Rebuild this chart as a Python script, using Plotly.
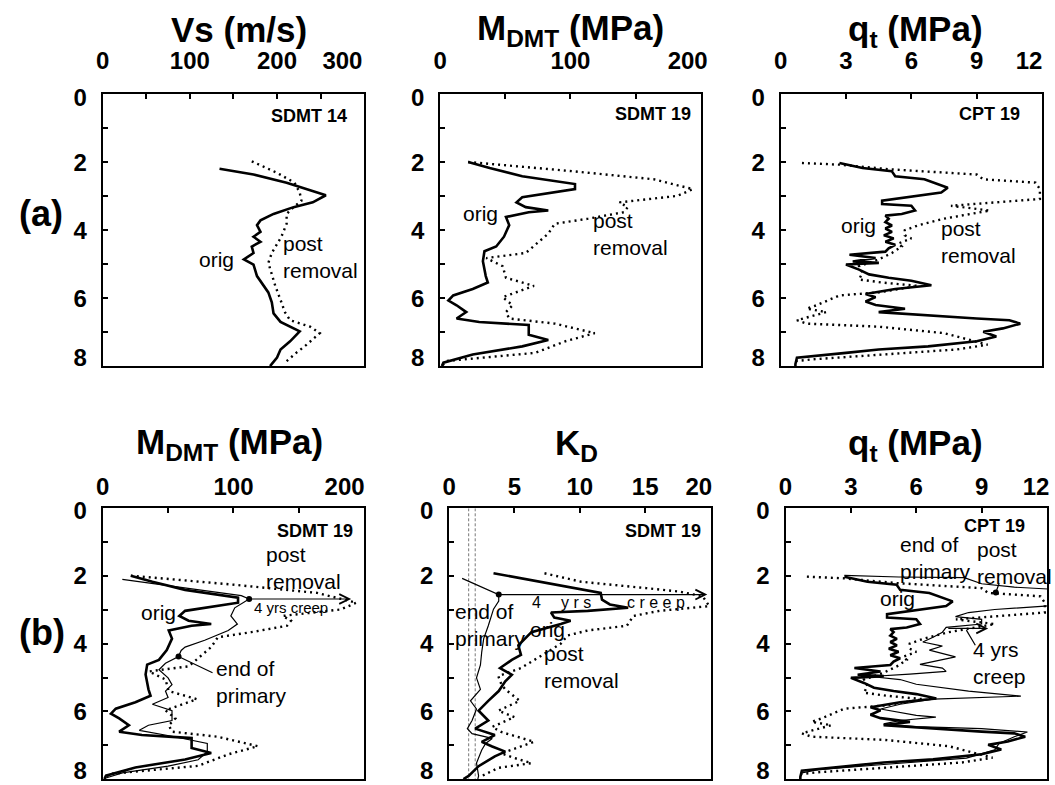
import plotly.graph_objects as go

FONT = "Liberation Sans, Arial, sans-serif"

# ---------------- profile data (depth in m) ----------------
# Row (a) panel 1: shear-wave velocity, SDMT 14
VS_ORIG_DEPTH = [2.19, 2.36, 2.6, 2.79, 2.97, 3.18, 3.32, 3.52, 3.71, 3.85, 4.05, 4.19, 4.34, 4.48,
                 4.67, 4.86, 5.01, 5.35, 5.49, 5.64, 5.83, 6.12, 6.45, 6.7, 6.98, 7.27, 7.51, 7.75, 8.0]
VS_ORIG = [134, 173, 211, 234, 256, 241, 219, 196, 181, 177, 181, 173, 181, 171,
           173, 162, 173, 177, 181, 185, 190, 194, 196, 204, 226, 215, 204, 200, 192]
VS_POST_DEPTH = [1.97, 2.31, 2.6, 2.89, 3.13, 3.32, 3.52, 3.81, 4.19, 4.67, 4.96, 5.64, 6.12, 6.41,
                 6.65, 6.84, 7.03, 7.37, 7.61, 7.9]
VS_POST = [171, 200, 220, 226, 228, 219, 211, 211, 205, 194, 190, 198, 205, 209,
           215, 238, 249, 234, 222, 209]

# Constrained modulus M_DMT, SDMT 19
M_ORIG_DEPTH = [1.99, 2.17, 2.41, 2.55, 2.64, 2.79, 2.89, 3.03, 3.18, 3.32, 3.42, 3.47, 3.61, 3.85,
                4.19, 4.48, 4.62, 4.91, 5.35, 5.54, 5.73, 5.92, 6.07, 6.21, 6.41, 6.6, 6.7, 6.79,
                7.08, 7.23, 7.42, 7.66, 7.9, 8.0]
M_ORIG = [21.5, 38, 63, 88, 103.5, 103.5, 88, 63, 58.6, 65.7, 83, 68, 50.5, 53,
          49, 43, 34, 32.8, 35, 36.6, 25, 10, 6.3, 12.6, 20, 12.6, 30, 68,
          68, 83, 63, 25, 2.5, 1.3]
M_POST_DEPTH = [1.99, 2.26, 2.5, 2.79, 2.99, 3.18, 3.32, 3.47, 3.66, 3.81, 4.1, 4.43, 4.67, 4.82,
                5.06, 5.4, 5.64, 5.97, 6.21, 6.41, 6.6, 6.75, 7.03, 7.27, 7.61, 7.85, 8.0]
M_POST = [21.5, 101, 164, 194, 182, 137.6, 144, 141, 113.6, 88, 83, 73, 65.7, 35.4,
          48, 50.5, 72, 48, 55.6, 50.5, 53, 88, 118.7, 96, 73, 5, 1.3]
M_EOP_DEPTH = [2.1, 2.35, 2.58, 2.68, 2.94, 3.18, 3.42, 3.61, 3.9, 4.1, 4.2, 4.38, 4.58, 4.77,
               5.01, 5.21, 5.4, 5.59, 5.79, 5.98, 6.27, 6.41, 6.56, 6.75, 6.95, 7.19, 7.43,
               7.62, 7.82, 7.97]
M_EOP = [15, 63, 106, 112, 101, 98, 103, 96, 78, 63, 60, 58, 48, 43,
         50, 53, 48, 50, 38, 53, 53, 35, 28, 55, 80, 80, 73,
         50, 15, 2.5]

# Cone resistance q_t, CPT 19
QT_ORIG_DEPTH = [2.02, 2.17, 2.26, 2.41, 2.5, 2.6, 2.75, 2.89, 3.01, 3.13, 3.23, 3.28, 3.42, 3.52,
                 3.57, 3.66, 3.76, 3.86, 3.95, 4.05, 4.15, 4.24, 4.34, 4.43, 4.53, 4.63, 4.72,
                 4.82, 4.92, 4.96, 5.01, 5.16, 5.3, 5.4, 5.49, 5.62, 5.73, 5.88, 5.97, 6.1, 6.2,
                 6.26, 6.31, 6.41, 6.48, 6.6, 6.65, 6.75, 6.89, 6.99, 7.13, 7.27, 7.42, 7.51,
                 7.61, 7.71, 7.75, 7.94, 8.0]
QT_ORIG = [2.7, 3.76, 5.1, 5.26, 6.6, 7.07, 7.67, 7.37, 6.0, 4.66, 4.66, 6.0, 6.17, 5.56,
           4.81, 4.96, 4.81, 5.11, 4.81, 5.11, 4.74, 5.19, 4.81, 5.26, 4.96, 4.81, 3.16,
           4.36, 3.31, 4.51, 3.0, 3.6, 4.06, 4.96, 6.0, 6.92, 5.26, 3.9, 4.36, 3.9, 4.36,
           5.26, 5.71, 4.5, 6.0, 9.0, 10.5, 11.0, 10.2, 9.3, 9.9, 9.0, 6.77, 4.5,
           3.0, 1.5, 0.75, 0.68, 0.68]
QT_POST_DEPTH = [2.02, 2.07, 2.21, 2.36, 2.5, 2.6, 2.79, 3.08, 3.28, 3.37, 3.42, 3.66, 3.86, 4.0,
                 4.15, 4.24, 4.39, 4.48, 4.67, 4.86, 5.06, 5.25, 5.45, 5.54, 5.64, 5.83, 5.92,
                 6.21, 6.31, 6.41, 6.65, 6.75, 6.84, 7.03, 7.27, 7.37, 7.51, 7.66, 7.8, 7.85]
QT_POST = [0.98, 2.7, 5.1, 9.0, 9.3, 11.7, 11.9, 11.9, 7.82, 9.0, 9.6, 7.5, 6.3, 5.7,
           5.7, 6.0, 5.4, 5.56, 5.11, 4.5, 3.6, 3.76, 3.6, 4.66, 6.3, 4.5, 2.7,
           1.65, 1.2, 2.1, 0.75, 1.2, 4.5, 7.5, 9.0, 9.5, 8.1, 4.5, 1.5, 0.75]
QT_EOP_DEPTH = [1.98, 2.03, 2.05, 2.23, 2.33, 2.4, 2.6, 2.85, 2.89, 2.99, 3.08, 3.2, 3.28, 3.42,
                3.52, 3.66, 3.81, 3.95, 4.07, 4.19, 4.39, 4.61, 4.72, 4.82, 4.9, 4.97, 5.06,
                5.2, 5.4, 5.55, 5.64, 5.79, 5.93, 6.12, 6.17, 6.27, 6.37, 6.45, 6.51, 6.61,
                6.75, 6.95, 7.14, 7.38, 7.57, 7.72, 7.82]
QT_EOP = [2.7, 5.2, 8.2, 9.0, 10.5, 12.5, 12.8, 12.8, 11.9, 9.6, 8.4, 7.8, 9.0, 9.0,
          7.37, 7.2, 6.77, 6.3, 7.2, 6.6, 7.8, 6.17, 7.2, 7.37, 5.7, 3.9, 5.26,
          6.0, 8.4, 10.8, 6.77, 5.26, 4.36, 6.0, 6.9, 5.26, 4.5, 6.0, 9.0, 11.1,
          10.5, 9.8, 9.6, 8.3, 4.5, 1.5, 0.75]

# Horizontal stress index K_D, SDMT 19
KD_ORIG_DEPTH = [1.92, 2.21, 2.5, 2.7, 2.84, 2.94, 3.03, 3.08, 3.23, 3.32, 3.42, 3.66, 3.85, 4.05,
                 4.33, 4.48, 4.72, 4.92, 5.11, 5.4, 5.69, 5.98, 6.27, 6.51, 6.7, 6.9, 7.04,
                 7.19, 7.33, 7.62, 7.91, 8.0]
KD_ORIG = [3.4, 7.5, 11.6, 11.7, 12.3, 13.7, 10.6, 7.8, 8.05, 9.3, 8.55, 6.3, 5.8, 5.3,
           5.5, 4.8, 3.9, 4.8, 4.3, 3.8, 3.0, 2.26, 3.0, 2.0, 3.5, 2.5, 3.3,
           4.3, 3.5, 2.26, 1.5, 1.1]
KD_EOP_DEPTH = [2.07, 2.55, 2.74, 2.98, 3.47, 3.85, 4.24, 4.63, 5.01, 5.35, 5.69, 5.93, 6.27,
                6.51, 6.66, 6.8, 6.95, 7.14, 7.53, 7.91, 8.0]
KD_EOP = [1.0, 3.8, 3.8, 3.4, 3.0, 2.65, 2.5, 2.4, 2.1, 2.4, 1.64, 2.1, 1.76,
          1.4, 1.76, 3.3, 2.8, 2.5, 2.1, 2.26, 2.2]
KD_POST_DEPTH = [1.92, 2.17, 2.36, 2.46, 2.6, 2.89, 3.03, 3.18, 3.47, 3.61, 3.76, 4.0, 4.24, 4.72,
                 4.96, 5.2, 5.35, 5.69, 5.98, 6.17, 6.46, 6.61, 6.9, 7.24, 7.38, 7.53, 7.67,
                 7.91]
KD_POST = [7.3, 10.1, 15.1, 17.6, 19.4, 19.9, 16.1, 14.1, 13.6, 10.6, 9.06, 8.55, 7.55, 5.5,
           3.77, 4.0, 4.3, 5.4, 3.77, 5.0, 3.3, 4.0, 6.5, 4.0, 5.0, 6.3, 3.77,
           2.5]
KD_REF_LINES = [1.5, 2.0]

# ---------------- axes and ticks ----------------
DEPTH_LABELS = ["0", "2", "4", "6", "8"]
DEPTH_LABEL_POS = [0.08, 2, 4, 6, 7.74]
DEPTH_MARKS = [1, 2, 3, 4, 5, 6, 7]

W, H = 1055, 785


def px_x(a, b):
    return [a / W, b / W]


def px_y(top, bottom):
    return [1 - bottom / H, 1 - top / H]


# (x pixel span, y pixel span, range, tick labels, label positions, tick marks, label standoff)
PANELS = [
    (px_x(97, 362), px_y(85, 362), [0, 300], ["0", "100", "200", "300"], [0, 100, 200, 275], [50, 100, 150, 200, 250], 14),
    (px_x(439, 703), px_y(85, 362), [0, 200], ["0", "100", "200"], [0, 100, 190], [50, 100, 150], 14),
    (px_x(784, 1049), px_y(85, 362), [0, 12], ["0", "3", "6", "9", "12"], [0, 3, 6, 9, 11.4], [3, 6, 9], 14),
    (px_x(97, 362), px_y(507, 783), [0, 200], ["0", "100", "200"], [0, 100, 185], [50, 100, 150], 2),
    (px_x(448, 713), px_y(507, 783), [0, 20], ["0", "5", "10", "15", "20"], [0, 5, 10, 15, 19.1], [5, 10, 15], 2),
    (px_x(789, 1054), px_y(507, 783), [0, 12], ["0", "3", "6", "9", "12"], [0, 3, 6, 9, 11.5], [3, 6, 9], 2),
]

fig = go.Figure()
layout = {}
for i, (xd, yd, xr, xlab, xpos, xmarks, standoff) in enumerate(PANELS, start=1):
    sfx = "" if i == 1 else str(i)
    common = dict(showline=True, linecolor="black", linewidth=2, mirror=True,
                  showgrid=False, zeroline=False, ticks="",
                  tickfont=dict(family=FONT, size=24, color="black", weight="bold"))
    layout["xaxis" + sfx] = dict(domain=xd, range=xr, side="top", anchor="y" + sfx,
                                 tickvals=xpos, ticktext=xlab, ticklabelstandoff=standoff,
                                 minor=dict(tickvals=xmarks, ticks="inside", ticklen=5,
                                            tickwidth=1.5, tickcolor="black"),
                                 **common)
    layout["yaxis" + sfx] = dict(domain=yd, range=[8, 0], anchor="x" + sfx,
                                 tickvals=DEPTH_LABEL_POS, ticktext=DEPTH_LABELS,
                                 ticklabelstandoff=9,
                                 minor=dict(tickvals=DEPTH_MARKS, ticks="inside", ticklen=5,
                                            tickwidth=1.5, tickcolor="black"),
                                 **common)

THICK = dict(color="black", width=2.6)
THIN = dict(color="black", width=1.2)
DOTTED = dict(color="black", width=2.4, dash="2px,4px")


def add(x, y, line, n):
    sfx = "" if n == 1 else str(n)
    fig.add_trace(go.Scatter(x=x, y=y, mode="lines", line=line, showlegend=False,
                             hoverinfo="skip", xaxis="x" + sfx, yaxis="y" + sfx))


# (a) row
add(VS_POST, VS_POST_DEPTH, DOTTED, 1)
add(VS_ORIG, VS_ORIG_DEPTH, THICK, 1)
add(M_POST, M_POST_DEPTH, DOTTED, 2)
add(M_ORIG, M_ORIG_DEPTH, THICK, 2)
add(QT_POST, QT_POST_DEPTH, DOTTED, 3)
add(QT_ORIG, QT_ORIG_DEPTH, THICK, 3)
# (b) row
add(M_POST, M_POST_DEPTH, DOTTED, 4)
add(M_EOP, M_EOP_DEPTH, THIN, 4)
add(M_ORIG, M_ORIG_DEPTH, THICK, 4)
for kd in KD_REF_LINES:
    add([kd, kd], [0, 8], dict(color="#555", width=0.8, dash="3px,2px"), 5)
add(KD_POST, KD_POST_DEPTH, DOTTED, 5)
add(KD_EOP, KD_EOP_DEPTH, THIN, 5)
add(KD_ORIG, KD_ORIG_DEPTH, THICK, 5)
add(QT_POST, QT_POST_DEPTH, DOTTED, 6)
add(QT_EOP, QT_EOP_DEPTH, THIN, 6)
add(QT_ORIG, QT_ORIG_DEPTH, THICK, 6)

# reference points marked with dots
DOTS = [(4, [112, 58], [2.68, 4.38]), (5, [3.8], [2.55]), (6, [9.65], [2.49])]
for n, xs, ys in DOTS:
    sfx = str(n)
    fig.add_trace(go.Scatter(x=xs, y=ys, mode="markers", marker=dict(color="black", size=6),
                             showlegend=False, hoverinfo="skip", xaxis="x" + sfx, yaxis="y" + sfx))

ann = []


def txt(n, x, y, s, size=21, xanchor="center", bold=False, align="left"):
    sfx = "" if n == 1 else str(n)
    ann.append(dict(x=x, y=y, xref="x" + sfx, yref="y" + sfx, text=s, showarrow=False,
                    xanchor=xanchor, yanchor="middle", align=align,
                    font=dict(family=FONT, size=size, color="black",
                              weight="bold" if bold else "normal")))


def arrow(n, x0, y0, x1, y1, head=5, width=1.2, size=1.6):
    sfx = "" if n == 1 else str(n)
    ann.append(dict(x=x1, y=y1, ax=x0, ay=y0, xref="x" + sfx, yref="y" + sfx,
                    axref="x" + sfx, ayref="y" + sfx, text="", showarrow=True,
                    arrowhead=head, arrowsize=size, arrowwidth=width, arrowcolor="black"))


# panel captions
txt(1, 283, 0.63, "SDMT 14", 18, "right", True)
txt(2, 194, 0.58, "SDMT 19", 18, "right", True)
txt(3, 11.1, 0.58, "CPT 19", 18, "right", True)
txt(4, 193, 0.67, "SDMT 19", 18, "right", True)
txt(5, 19.4, 0.67, "SDMT 19", 18, "right", True)
txt(6, 11.1, 0.52, "CPT 19", 18, "right", True)

# curve labels
txt(1, 131, 4.86, "orig")
txt(1, 204, 4.8, "post<br>removal", xanchor="left")
txt(2, 30.7, 3.52, "orig")
txt(2, 116, 4.1, "post<br>removal", xanchor="left")
txt(3, 3.59, 3.85, "orig")
txt(3, 7.26, 4.36, "post<br>removal", xanchor="left")

txt(4, 123, 1.75, "post<br>removal", xanchor="left")
txt(4, 43, 3.07, "orig")
txt(4, 144, 2.93, "4 yrs creep", 15)
txt(4, 85, 5.13, "end of<br>primary", xanchor="left")
arrow(4, 112, 2.68, 190, 2.68)
arrow(4, 58, 4.38, 84, 4.86, head=0)

txt(5, 0.3, 3.45, "end of<br>primary", xanchor="left")
txt(5, 7.55, 3.57, "orig")
txt(5, 7.1, 4.7, "post<br>removal", xanchor="left")
txt(5, 6.7, 2.78, "4", 16)
txt(5, 9.7, 2.78, "y r s", 16)
txt(5, 15.8, 2.78, "c r e e p", 16)
arrow(5, 3.8, 2.55, 19.75, 2.55)

txt(6, 5.14, 1.48, "end of<br>primary", xanchor="left")
txt(6, 8.7, 1.63, "post<br>removal", xanchor="left")
txt(6, 5.15, 2.67, "orig")
txt(6, 8.5, 4.56, "4 yrs<br>creep", xanchor="left")
arrow(6, 7.4, 3.55, 9.3, 3.55)
arrow(6, 9.83, 2.17, 9.65, 2.49, head=0)
arrow(6, 8.75, 4.09, 8.3, 3.6, head=0)

# axis titles and row labels (paper coordinates)
TITLES = [
    (235, 19, "Vs (m/s)", 35),
    (571, 19, "M<sub>DMT</sub> (MPa)", 35),
    (921, 20, "q<sub>t</sub> (MPa)", 35),
    (225, 441, "M<sub>DMT</sub> (MPa)", 35),
    (577, 442, "K<sub>D</sub>", 35),
    (921, 442, "q<sub>t</sub> (MPa)", 35),
    (34, 206, "(a)", 36),
    (35, 634, "(b)", 36),
]
for tx, ty, s, fs in TITLES:
    ann.append(dict(x=tx / W, y=1 - ty / H, xref="paper", yref="paper", text=s, showarrow=False,
                    xanchor="center", yanchor="middle",
                    font=dict(family=FONT, size=fs, color="black", weight="bold")))

fig.update_layout(width=W, height=H, margin=dict(l=0, r=0, t=0, b=0),
                  paper_bgcolor="white", plot_bgcolor="white", annotations=ann, **layout)

fig.write_html("out.html")
